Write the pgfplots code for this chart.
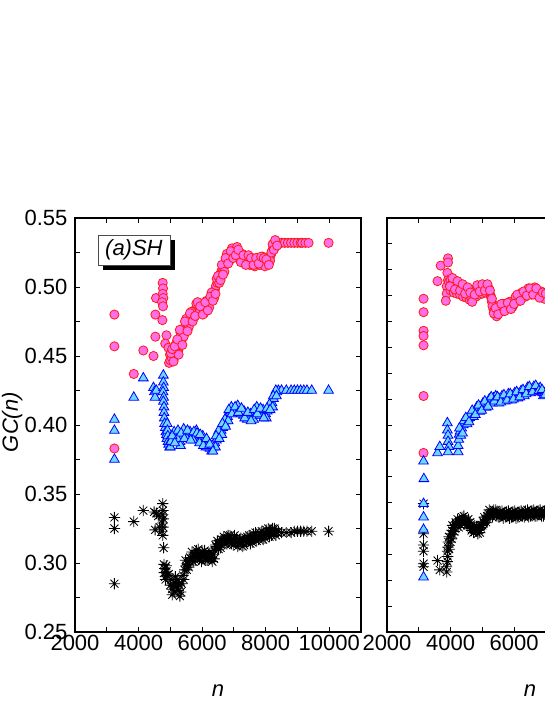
\documentclass[border=0pt]{standalone}
\usepackage{fontspec}
\setmainfont{Liberation Sans}
\usepackage{pgfplots}
\pgfplotsset{compat=1.18}
\usetikzlibrary{shadows}

\definecolor{cpink}{RGB}{255,110,230}
\definecolor{cred}{RGB}{255,25,25}
\definecolor{tcyan}{RGB}{110,215,255}
\definecolor{tblue}{RGB}{0,0,255}

% 8-arm asterisk like the Origin star
\pgfdeclareplotmark{star8}{%
  \pgfpathmoveto{\pgfqpoint{-\pgfplotmarksize}{0pt}}%
  \pgfpathlineto{\pgfqpoint{\pgfplotmarksize}{0pt}}%
  \pgfpathmoveto{\pgfqpoint{0pt}{-\pgfplotmarksize}}%
  \pgfpathlineto{\pgfqpoint{0pt}{\pgfplotmarksize}}%
  \pgfpathmoveto{\pgfqpoint{-.707\pgfplotmarksize}{-.707\pgfplotmarksize}}%
  \pgfpathlineto{\pgfqpoint{.707\pgfplotmarksize}{.707\pgfplotmarksize}}%
  \pgfpathmoveto{\pgfqpoint{-.707\pgfplotmarksize}{.707\pgfplotmarksize}}%
  \pgfpathlineto{\pgfqpoint{.707\pgfplotmarksize}{-.707\pgfplotmarksize}}%
  \pgfusepathqstroke}

\pgfplotsset{
  panel/.style={
    scale only axis, width=286pt, height=414pt, anchor=south west,
    xmin=2000, xmax=11000,
    xtick={2000,4000,6000,8000,10000}, minor x tick num=1,
    scaled x ticks=false,
    minor y tick num=1,
    tick align=inside,
    major tick length=5pt, minor tick length=5pt,
    every tick/.style={black, line width=0.9pt},
    axis line style={line width=1.1pt},
    tick label style={font=\fontsize{22}{26}\selectfont},
    /pgf/number format/assume math mode=true,
    /pgf/number format/1000 sep={},
    xlabel={\itshape n},
    xlabel style={font=\fontsize{22}{26}\selectfont, yshift=-27pt},
  },
  circ/.style={only marks, mark=*, mark size=4.6pt,
    mark options={draw=cred, fill=cpink, line width=0.8pt}},
  tri/.style={only marks, mark=triangle*, mark size=5.6pt,
    mark options={draw=tblue, fill=tcyan, line width=0.8pt}},
  ast/.style={only marks, mark=star8, mark size=5.6pt,
    mark options={draw=black, line width=0.85pt}},
}

\begin{document}
\begin{tikzpicture}
\useasboundingbox (0,0) rectangle (545pt,705pt);
\clip (0,0) rectangle (545pt,705pt);

% ---------------- panel (a) ----------------
\begin{axis}[panel, at={(75pt,73pt)},
    ymin=0.25, ymax=0.55,
    ytick={0.25,0.3,0.35,0.4,0.45,0.5,0.55},
    yticklabel style={xshift=-4pt, /pgf/number format/.cd, fixed, fixed zerofill, precision=2},
    ylabel={\itshape GC(n)},
    ylabel style={at={(axis description cs:-0.22,0.507)}, anchor=center,
      font=\fontsize{22}{26}\selectfont},
]
\addplot[ast] coordinates {
 (3240,0.333) (3240,0.325) (3240,0.285) (3850,0.330) (4150,0.338) (4490,0.337)
 (4520,0.324) (4560,0.336) (4620,0.334) (4660,0.326)
 (4760,0.343) (4770,0.338) (4760,0.335) (4780,0.332) (4750,0.329) (4770,0.326)
 (4740,0.323) (4760,0.320) (4790,0.311)
 (4800,0.299) (4820,0.296) (4810,0.293) (4840,0.290) (4850,0.288) (4870,0.298)
 (4880,0.294) (4900,0.291)
 (4950,0.292) (5000,0.284) (5050,0.281) (5100,0.284) (5150,0.286) (5200,0.283)
 (5250,0.280) (5300,0.276) (5330,0.279) (5360,0.285) (5400,0.291) (5450,0.295)
 (5500,0.298) (5550,0.299) (5600,0.301) (5650,0.303) (5700,0.304) (5750,0.305)
 (5800,0.306) (5850,0.306) (5900,0.306) (5950,0.305) (6000,0.305) (6050,0.305)
 (6100,0.306) (6150,0.305) (6200,0.304) (6250,0.305) (6300,0.304) (6350,0.306)
 (6400,0.309) (6450,0.312) (6500,0.314) (6550,0.314) (6600,0.313) (6650,0.315)
 (6700,0.317) (6750,0.318) (6800,0.317) (6850,0.316) (6900,0.317) (6950,0.318)
 (7000,0.317) (7050,0.316) (7100,0.315) (7150,0.314) (7200,0.315) (7250,0.315)
 (7300,0.316) (7350,0.316) (7400,0.315) (7450,0.316) (7500,0.317) (7550,0.317)
 (7600,0.318) (7650,0.318) (7700,0.319) (7750,0.319) (7800,0.319) (7850,0.320)
 (7900,0.320) (7950,0.320) (8000,0.321) (8050,0.321) (8100,0.322) (8150,0.323)
 (8200,0.323) (8250,0.322) (8300,0.323) (8350,0.322) (8400,0.323) (8500,0.322)
 (8650,0.322) (8800,0.322) (8900,0.323) (9000,0.323) (9100,0.323) (9200,0.323)
 (9300,0.323) (9450,0.323) (9980,0.323)
 (5020,0.288) (5120,0.279) (5220,0.288) (5280,0.284)
 (5520,0.295) (5620,0.304) (5720,0.301) (5820,0.309) (5920,0.303) (6020,0.308)
 (6120,0.302) (6220,0.307) (6320,0.301) (6420,0.313) (6520,0.310) (6620,0.317)
 (6720,0.314) (6820,0.320) (6920,0.314) (7020,0.320) (7120,0.312) (7220,0.318)
 (7320,0.313) (7420,0.319) (7520,0.314) (7620,0.321) (7720,0.316) (7820,0.322)
 (7920,0.317) (8020,0.324) (8120,0.319) (8220,0.325) (8320,0.320)
 (5060,0.277) (5160,0.290) (5260,0.285) (5420,0.288) (5480,0.302) (5580,0.297)
 (5680,0.308) (5780,0.302) (5880,0.310) (5980,0.301) (6080,0.309) (6180,0.302)
 (6280,0.308) (6380,0.303) (6480,0.316) (6580,0.311) (6680,0.319) (6780,0.314)
 (6880,0.320) (6980,0.313) (7080,0.318) (7180,0.317) (7280,0.312) (7380,0.318)
 (7480,0.320) (7580,0.315) (7680,0.322) (7780,0.317) (7880,0.323) (7980,0.318)
 (8080,0.325) (8180,0.320) (8280,0.325)
};
\addplot[circ] coordinates {
 (3240,0.480) (3240,0.457) (3240,0.383) (3850,0.437) (4150,0.454) (4470,0.450)
 (4530,0.464) (4530,0.480) (4550,0.492) (4760,0.503) (4770,0.499) (4760,0.495)
 (4780,0.492) (4740,0.489) (4770,0.486) (4750,0.476) (4880,0.465) (4840,0.459)
 (4940,0.456) (4990,0.451) (4960,0.445) (5100,0.447) (5200,0.451) (5300,0.458)
 (5360,0.462) (5250,0.454) (5320,0.467)
 (5000,0.447) (5040,0.449) (5080,0.452) (5120,0.450) (5160,0.454) (5200,0.456)
 (5240,0.455) (5280,0.458) (5320,0.461) (5360,0.464) (5400,0.468) (5440,0.470)
 (5480,0.472) (5520,0.474) (5560,0.475) (5600,0.477) (5640,0.478) (5680,0.479)
 (5720,0.481) (5760,0.483) (5800,0.484) (5840,0.484) (5880,0.485) (5920,0.484)
 (5960,0.483) (6000,0.484) (6040,0.485) (6080,0.486) (6120,0.486) (6160,0.487)
 (6200,0.488) (6240,0.489) (6280,0.491) (6320,0.493) (6360,0.495) (6400,0.498)
 (6440,0.501) (6480,0.503) (6520,0.506) (6560,0.508) (6600,0.511) (6640,0.513)
 (6680,0.514) (6720,0.516) (6760,0.519) (6800,0.521) (6840,0.522) (6880,0.523)
 (6920,0.524) (6960,0.525) (7000,0.525) (7040,0.526) (7080,0.526) (7120,0.525)
 (7160,0.524) (7200,0.522) (7240,0.521) (7280,0.520) (7320,0.521) (7360,0.520)
 (7400,0.519) (7440,0.519) (7480,0.520) (7520,0.519) (7560,0.518) (7600,0.518)
 (7640,0.519) (7680,0.518) (7720,0.518) (7760,0.519) (7800,0.520) (7840,0.520)
 (7880,0.519) (7920,0.520) (7960,0.518) (8000,0.517) (8040,0.517) (8080,0.519)
 (8120,0.521) (8160,0.523) (8200,0.526) (8240,0.529) (8280,0.531) (8320,0.532)
 (8400,0.532) (8500,0.532) (8600,0.532) (8700,0.532) (8800,0.532) (8900,0.532)
 (9000,0.532) (9100,0.532) (9150,0.532) (9250,0.532) (9350,0.532) (9980,0.532)
 (5020,0.452) (5100,0.446) (5180,0.459) (5260,0.451) (5340,0.466) (5420,0.464)
 (5500,0.477) (5580,0.471) (5660,0.482) (5740,0.478) (5820,0.488) (5900,0.481)
 (5980,0.487) (6060,0.481) (6140,0.490) (6220,0.485) (6300,0.496) (6380,0.492)
 (6460,0.506) (6540,0.503) (6620,0.516) (6700,0.511) (6780,0.524) (6860,0.519)
 (6940,0.528) (7020,0.522) (7100,0.529) (7180,0.520) (7260,0.524) (7340,0.517)
 (7420,0.522) (7500,0.516) (7580,0.521) (7660,0.515) (7740,0.521) (7820,0.516)
 (7900,0.522) (7980,0.515) (8060,0.520) (8140,0.519) (8220,0.531)
 (5060,0.455) (5140,0.457) (5220,0.462) (5300,0.469) (5380,0.458) (5460,0.475)
 (5540,0.468) (5620,0.481) (5700,0.475) (5780,0.479) (5860,0.489) (5940,0.486)
 (6020,0.480) (6100,0.489) (6180,0.483) (6260,0.493) (6340,0.490) (6420,0.495)
 (6500,0.508) (6580,0.505) (6660,0.509) (6740,0.521) (6820,0.517) (6900,0.526)
 (6980,0.521) (7060,0.523) (7140,0.527) (7220,0.518) (7300,0.523) (7380,0.516)
 (7460,0.523) (7540,0.521) (7620,0.516) (7700,0.521) (7780,0.517) (7860,0.522)
 (7940,0.521) (8020,0.520) (8100,0.516) (8180,0.525) (8260,0.527) (8300,0.534)
 (8360,0.530)
};
\addplot[tri] coordinates {
 (3240,0.404) (3240,0.396) (3240,0.375) (3850,0.420) (4150,0.434) (4470,0.427)
 (4500,0.424) (4520,0.420) (4560,0.425)
 (4780,0.436) (4780,0.431) (4790,0.427) (4770,0.424) (4790,0.420) (4780,0.417)
 (4800,0.413) (4800,0.409) (4810,0.405) (4820,0.401)
 (4840,0.398) (4860,0.395) (4880,0.393) (4890,0.390)
 (4900,0.401) (4910,0.396) (4920,0.392) (4930,0.388) (4950,0.386) (4980,0.384)
 (5000,0.384) (5050,0.388) (5100,0.391) (5150,0.393) (5200,0.394) (5250,0.391)
 (5300,0.388) (5350,0.392) (5400,0.394) (5450,0.395) (5500,0.394) (5550,0.392)
 (5600,0.391) (5650,0.393) (5700,0.393) (5750,0.392) (5800,0.393) (5850,0.391)
 (5900,0.390) (5950,0.390) (6000,0.389) (6050,0.388) (6100,0.387) (6150,0.386)
 (6200,0.384) (6250,0.383) (6300,0.381) (6350,0.384) (6400,0.387) (6450,0.389)
 (6500,0.392) (6550,0.394) (6600,0.396) (6650,0.398) (6700,0.401) (6750,0.403)
 (6800,0.406) (6850,0.409) (6900,0.410) (6950,0.411) (7000,0.411) (7050,0.410)
 (7100,0.411) (7150,0.412) (7200,0.411) (7250,0.409) (7300,0.407) (7350,0.408)
 (7400,0.407) (7450,0.406) (7500,0.405) (7550,0.406) (7600,0.407) (7650,0.409)
 (7700,0.410) (7750,0.411) (7800,0.410) (7850,0.409) (7900,0.408) (7950,0.407)
 (8000,0.408) (8050,0.410) (8100,0.412) (8150,0.414) (8200,0.416) (8250,0.419)
 (8300,0.422) (8350,0.424) (8400,0.425) (8500,0.425) (8650,0.425) (8800,0.425)
 (8900,0.425) (9000,0.425) (9100,0.425) (9200,0.425) (9300,0.425) (9450,0.425)
 (9980,0.425)
 (5020,0.388) (5120,0.395) (5220,0.390) (5320,0.385) (5420,0.397) (5520,0.390)
 (5620,0.395) (5720,0.389) (5820,0.396) (5920,0.387) (6020,0.392) (6120,0.384)
 (6220,0.387) (6320,0.385) (6420,0.384) (6520,0.396) (6620,0.393) (6720,0.404)
 (6820,0.403) (6920,0.413) (7020,0.408) (7120,0.414) (7220,0.408) (7320,0.410)
 (7420,0.404) (7520,0.408) (7620,0.404) (7720,0.413) (7820,0.407) (7920,0.411)
 (8020,0.405) (8120,0.415) (8220,0.413) (8320,0.425)
 (5060,0.392) (5140,0.387) (5240,0.396) (5340,0.394) (5440,0.390) (5540,0.396)
 (5640,0.389) (5740,0.395) (5840,0.394) (5940,0.393) (6040,0.385) (6140,0.390)
 (6240,0.386) (6340,0.381) (6440,0.392) (6540,0.390) (6640,0.401) (6740,0.399)
 (6840,0.411) (6940,0.408) (7040,0.413) (7140,0.409) (7240,0.412) (7340,0.405)
 (7440,0.409) (7540,0.403) (7640,0.411) (7740,0.408) (7840,0.412) (7940,0.405)
 (8040,0.412) (8140,0.411) (8240,0.421) (8340,0.421)
};
\node[draw=black!70, fill=white, line width=0.6pt,
      drop shadow={shadow xshift=5pt, shadow yshift=-5pt, opacity=1, fill=black},
      minimum width=72pt, minimum height=30pt, inner sep=0pt,
      font=\fontsize{22}{26}\selectfont\itshape]
  at (rel axis cs:0.206,0.923) {(a)SH};
\end{axis}

% ---------------- panel (b), cut by the page edge ----------------
\begin{axis}[panel, at={(387pt,73pt)},
    ymin=0.2, ymax=0.6,
    ytick={0.2,0.25,0.3,0.35,0.4,0.45,0.5,0.55,0.6},
    yticklabels={},
]
\addplot[ast] coordinates {
 (3150,0.324) (3150,0.295) (3150,0.284) (3150,0.278) (3150,0.266) (3150,0.263)
 (3590,0.269) (3660,0.260)
 (3870,0.263) (3880,0.258) (3900,0.268) (3910,0.273) (3900,0.278) (3920,0.282)
 (3930,0.287) (3950,0.292) (3960,0.280) (4000,0.287) (4030,0.290) (4080,0.294)
 (4000,0.295) (4050,0.298) (4100,0.301) (4150,0.303) (4200,0.304) (4250,0.306)
 (4300,0.307) (4350,0.308) (4400,0.309) (4450,0.308) (4500,0.307) (4550,0.305)
 (4600,0.303) (4650,0.301) (4700,0.300) (4750,0.299) (4800,0.298) (4850,0.299)
 (4900,0.299) (4950,0.301) (5000,0.303) (5050,0.305) (5100,0.309) (5150,0.312)
 (5200,0.314) (5250,0.315) (5300,0.315) (5350,0.315) (5400,0.315) (5450,0.314)
 (5500,0.314) (5550,0.313) (5600,0.313) (5650,0.313) (5700,0.314) (5750,0.313)
 (5800,0.313) (5850,0.313) (5900,0.314) (5950,0.313) (6000,0.313) (6050,0.313)
 (6100,0.313) (6150,0.314) (6200,0.313) (6250,0.313) (6300,0.314) (6350,0.314)
 (6400,0.314) (6450,0.314) (6500,0.314) (6550,0.315) (6600,0.315) (6650,0.315)
 (6700,0.315) (6750,0.315) (6800,0.315) (6850,0.315) (6900,0.315) (6950,0.315)
 (7000,0.315) (7050,0.315)
 (4120,0.297) (4220,0.309) (4320,0.303) (4420,0.312) (4520,0.303) (4620,0.306)
 (4720,0.296) (4820,0.302) (4920,0.296) (5020,0.307) (5120,0.306) (5220,0.318)
 (5320,0.311) (5420,0.318) (5520,0.311) (5620,0.317) (5720,0.311) (5820,0.317)
 (5920,0.311) (6020,0.317) (6120,0.311) (6220,0.317) (6320,0.311) (6420,0.318)
 (6520,0.312) (6620,0.318) (6720,0.312) (6820,0.318) (6920,0.312) (7020,0.318)
 (4060,0.303) (4160,0.306) (4260,0.301) (4360,0.311) (4460,0.305) (4560,0.309)
 (4660,0.298) (4760,0.303) (4860,0.295) (4960,0.303) (5060,0.311) (5160,0.309)
 (5260,0.313) (5360,0.318) (5460,0.312) (5560,0.316) (5660,0.310) (5760,0.316)
 (5860,0.310) (5960,0.316) (6060,0.310) (6160,0.316) (6260,0.312) (6360,0.317)
 (6460,0.311) (6560,0.317) (6660,0.312) (6760,0.317) (6860,0.312) (6960,0.317)
};
\addplot[circ] coordinates {
 (3150,0.522) (3150,0.509) (3150,0.491) (3150,0.486) (3150,0.477) (3150,0.428)
 (3150,0.373)
 (3590,0.539) (3690,0.554) (3920,0.561) (3920,0.557) (3900,0.547) (3920,0.540)
 (3880,0.534) (3880,0.527) (3850,0.520)
 (4000,0.530) (4100,0.528) (4200,0.527) (4300,0.526) (4400,0.524) (4500,0.523)
 (4600,0.521) (4800,0.524) (4900,0.526) (5000,0.527) (5100,0.528)
 (3950,0.538) (4000,0.540) (4050,0.537) (4100,0.539) (4150,0.537) (4200,0.536)
 (4250,0.535) (4300,0.533) (4350,0.533) (4400,0.532) (4450,0.531) (4500,0.530)
 (4550,0.529) (4600,0.526) (4650,0.523) (4700,0.527) (4750,0.530) (4800,0.531)
 (4850,0.532) (4900,0.532) (4950,0.533) (5000,0.533) (5050,0.534) (5100,0.534)
 (5150,0.534) (5200,0.532) (5250,0.526) (5300,0.519) (5350,0.512) (5400,0.507)
 (5450,0.509) (5500,0.512) (5550,0.513) (5600,0.513) (5650,0.514) (5700,0.514)
 (5750,0.515) (5800,0.515) (5850,0.516) (5900,0.516) (5950,0.518) (6000,0.520)
 (6050,0.521) (6100,0.522) (6150,0.523) (6200,0.524) (6250,0.525) (6300,0.526)
 (6350,0.527) (6400,0.528) (6450,0.529) (6500,0.529) (6550,0.529) (6600,0.529)
 (6650,0.530) (6700,0.529) (6750,0.528) (6800,0.527) (6850,0.526) (6900,0.525)
 (6950,0.525) (7000,0.524) (7050,0.524)
 (5200,0.529) (5280,0.523) (5320,0.515) (5380,0.511) (5450,0.505) (5550,0.509)
 (5650,0.517) (5750,0.512) (5850,0.519) (5950,0.514) (6050,0.524) (6150,0.520)
 (6250,0.528) (6350,0.524) (6450,0.532) (6550,0.526) (6650,0.533) (6750,0.525)
 (6850,0.529) (6950,0.522)
 (3980,0.534) (4060,0.542) (4140,0.531) (4220,0.539) (4300,0.530) (4380,0.536)
 (4460,0.527) (4540,0.533) (4620,0.528) (4680,0.519) (4760,0.526) (4840,0.535)
 (4920,0.529) (5000,0.536) (5080,0.530) (5160,0.536) (5240,0.530) (5300,0.522)
 (5360,0.508) (5420,0.513) (5500,0.507) (5600,0.517) (5700,0.510) (5800,0.518)
 (5900,0.512) (6000,0.517) (6100,0.526) (6200,0.520) (6300,0.529) (6400,0.525)
 (6500,0.532) (6600,0.526) (6700,0.532) (6800,0.523) (6900,0.528) (7000,0.527)
};
\addplot[tri] coordinates {
 (3150,0.365) (3160,0.348) (3150,0.324) (3150,0.311) (3150,0.299) (3150,0.253)
 (3590,0.373) (3660,0.379)
 (3900,0.402) (3900,0.395) (3920,0.390) (3920,0.384) (3950,0.379) (3920,0.374)
 (4240,0.374) (4240,0.380) (4260,0.386) (4270,0.391)
 (4300,0.394) (4350,0.397) (4400,0.400) (4450,0.402) (4500,0.404) (4550,0.406)
 (4600,0.407) (4650,0.409) (4700,0.411) (4750,0.413) (4800,0.414) (4850,0.415)
 (4900,0.416) (4950,0.417) (5000,0.418) (5050,0.419) (5100,0.420) (5150,0.421)
 (5200,0.422) (5250,0.423) (5300,0.425) (5350,0.426) (5400,0.426) (5450,0.424)
 (5500,0.424) (5550,0.425) (5600,0.425) (5650,0.425) (5700,0.426) (5750,0.426)
 (5800,0.427) (5850,0.427) (5900,0.427) (5950,0.428) (6000,0.428) (6050,0.429)
 (6100,0.429) (6150,0.430) (6200,0.430) (6250,0.431) (6300,0.431) (6350,0.432)
 (6400,0.433) (6450,0.433) (6500,0.434) (6550,0.434) (6600,0.434) (6650,0.435)
 (6700,0.435) (6750,0.435) (6800,0.434) (6850,0.432) (6900,0.431) (6950,0.431)
 (7000,0.431)
 (4320,0.390) (4420,0.404) (4520,0.401) (4620,0.410) (4720,0.408) (4820,0.417)
 (4920,0.413) (5020,0.421) (5120,0.417) (5220,0.425) (5320,0.421) (5420,0.428)
 (5520,0.421) (5620,0.428) (5720,0.423) (5820,0.430) (5920,0.424) (6020,0.431)
 (6120,0.426) (6220,0.433) (6320,0.428) (6420,0.436) (6520,0.431) (6620,0.437)
 (6720,0.432) (6820,0.436) (6920,0.428)
 (4280,0.397) (4380,0.392) (4480,0.407) (4580,0.403) (4680,0.414) (4780,0.410)
 (4880,0.419) (4980,0.414) (5080,0.423) (5180,0.418) (5280,0.427) (5380,0.423)
 (5480,0.427) (5580,0.422) (5680,0.429) (5780,0.424) (5880,0.430) (5980,0.425)
 (6080,0.432) (6180,0.427) (6280,0.434) (6380,0.430) (6480,0.437) (6580,0.432)
 (6680,0.438) (6780,0.433) (6880,0.434) (6980,0.429)
};
\end{axis}
\end{tikzpicture}
\end{document}
